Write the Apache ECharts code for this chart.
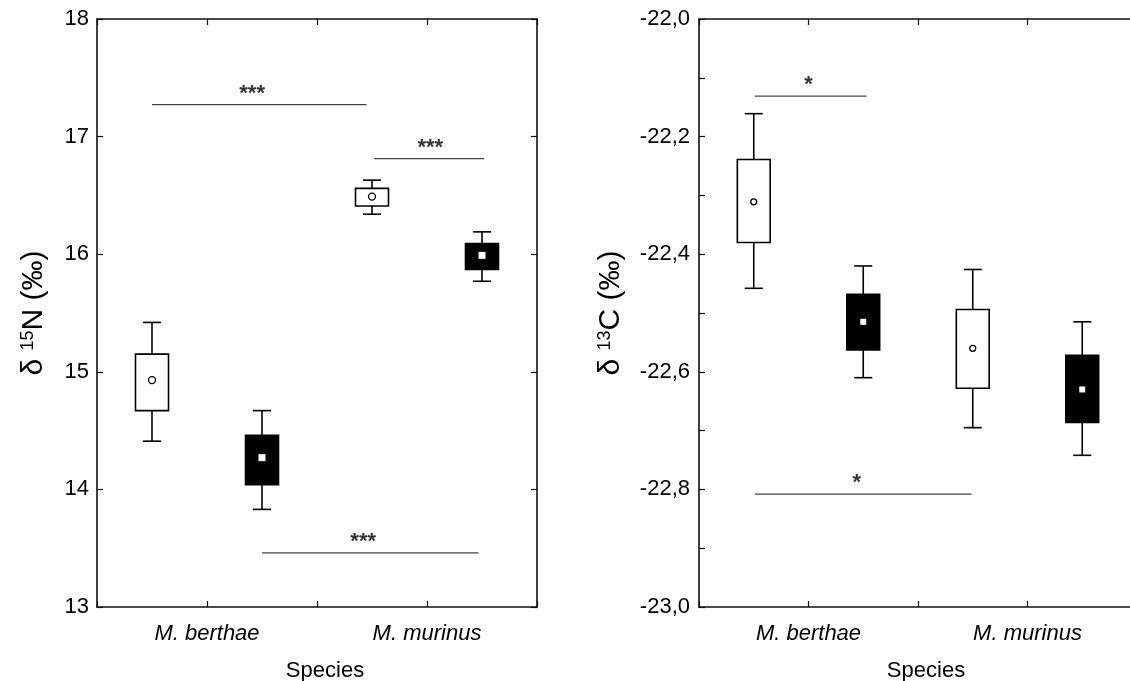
<!DOCTYPE html>
<html>
<head>
<meta charset="utf-8">
<script src="https://cdn.jsdelivr.net/npm/echarts@6/dist/echarts.min.js"></script>
<style>
html,body{margin:0;padding:0;background:#fff;}
#chart{width:1130px;height:681px;}
</style>
</head>
<body>
<div id="chart"></div>
<script>
// ---- data ----
const categories = ['M. berthae', 'M. murinus'];
const categoryPos = [1, 3];
const boxPos = [0.5, 1.5, 2.5, 3.5];
const boxFilled = [0, 1, 0, 1];

// delta 15N panel
const nWhiskerLow  = [14.41, 13.83, 16.34, 15.77];
const nBoxLow      = [14.67, 14.04, 16.41, 15.87];
const nMean        = [14.93, 14.27, 16.49, 15.99];
const nBoxHigh     = [15.15, 14.46, 16.56, 16.09];
const nWhiskerHigh = [15.42, 14.67, 16.63, 16.19];
const nTicks = [13, 14, 15, 16, 17, 18];

// delta 13C panel
const cWhiskerLow  = [-22.458, -22.610, -22.695, -22.742];
const cBoxLow      = [-22.380, -22.563, -22.628, -22.686];
const cMean        = [-22.311, -22.515, -22.560, -22.630];
const cBoxHigh     = [-22.239, -22.468, -22.494, -22.572];
const cWhiskerHigh = [-22.161, -22.420, -22.426, -22.515];
const cTicks = [-23.0, -22.8, -22.6, -22.4, -22.2, -22.0];

// significance bars
const nSigX1 = [0.50, 2.52, 1.50];
const nSigX2 = [2.45, 3.52, 3.47];
const nSigY  = [17.272, 16.813, 13.46];
const nSigLabelX = [1.41, 3.03, 2.42];
const nSigLabel = ['***', '***', '***'];

const cSigX1 = [0.51, 0.51];
const cSigX2 = [1.53, 2.49];
const cSigY  = [-22.131, -22.808];
const cSigLabelX = [1.00, 1.44];
const cSigLabel = ['*', '*'];

// ---- chart ----
const FONT = "'Liberation Sans', Arial, sans-serif";
const chart = echarts.init(document.getElementById('chart'), null, {renderer: 'canvas'});

function boxData(wl, bl, m, bh, wh) {
  return boxPos.map((x, i) => [x, wl[i], bl[i], m[i], bh[i], wh[i], boxFilled[i]]);
}

function makeRender(markSize, circleR) {
  return function (params, api) {
    const x = api.value(0);
    const pWL = api.coord([x, api.value(1)]);
    const pBL = api.coord([x, api.value(2)]);
    const pM  = api.coord([x, api.value(3)]);
    const pBH = api.coord([x, api.value(4)]);
    const pWH = api.coord([x, api.value(5)]);
    const filled = api.value(6) === 1;
    const halfW = api.size([0.3, 0])[0] / 2;
    const capHalf = api.size([0.165, 0])[0] / 2;
    const ls = {stroke: '#000', lineWidth: 1.6};
    const children = [
      {type: 'line', shape: {x1: pWH[0], y1: pWH[1], x2: pWL[0], y2: pWL[1]}, style: ls},
      {type: 'line', shape: {x1: pWH[0] - capHalf, y1: pWH[1], x2: pWH[0] + capHalf, y2: pWH[1]}, style: ls},
      {type: 'line', shape: {x1: pWL[0] - capHalf, y1: pWL[1], x2: pWL[0] + capHalf, y2: pWL[1]}, style: ls},
      {type: 'rect', shape: {x: pBH[0] - halfW, y: pBH[1], width: halfW * 2, height: pBL[1] - pBH[1]},
        style: {fill: filled ? '#000' : '#fff', stroke: '#000', lineWidth: 1.6}}
    ];
    if (filled) {
      children.push({type: 'rect', shape: {x: pM[0] - markSize / 2, y: pM[1] - markSize / 2, width: markSize, height: markSize},
        style: {fill: '#fff'}});
    } else {
      children.push({type: 'circle', shape: {cx: pM[0], cy: pM[1], r: circleR},
        style: {fill: '#fff', stroke: '#000', lineWidth: 1.3}});
    }
    return {type: 'group', children: children};
  };
}

function sigLines(x1, x2, y, xi, yi) {
  return x1.map((v, i) => ({
    type: 'line', xAxisIndex: xi, yAxisIndex: yi, silent: true, symbol: 'none',
    data: [[x1[i], y[i]], [x2[i], y[i]]],
    lineStyle: {color: '#444', width: 1.2}, animation: false, z: 3
  }));
}

function sigText(lx, y, labels, xi, yi) {
  return {
    type: 'scatter', xAxisIndex: xi, yAxisIndex: yi, silent: true, symbolSize: 0,
    data: lx.map((v, i) => [lx[i], y[i], labels[i]]),
    label: {show: true, position: 'top', distance: 0, formatter: p => p.data[2],
      fontFamily: FONT, fontSize: 22, fontWeight: 'bold', color: '#000'},
    animation: false
  };
}

const axisLineStyle = {show: true, onZero: false, lineStyle: {color: '#111', width: 1.6}};
const tickStyle = {show: true, inside: true, length: 6, lineStyle: {color: '#111', width: 1.2}};

function xAxes(gi) {
  return [
    {gridIndex: gi, type: 'value', min: 0, max: 4, interval: 1, position: 'bottom',
      axisLine: axisLineStyle, axisTick: tickStyle, splitLine: {show: false},
      axisLabel: {show: true, margin: 16, fontFamily: FONT, fontSize: 22, fontStyle: 'italic', color: '#000',
        formatter: v => { const k = categoryPos.indexOf(Math.round(v)); return k >= 0 ? categories[k] : ''; }},
      name: 'Species', nameLocation: 'middle', nameGap: 53,
      nameTextStyle: {fontFamily: FONT, fontSize: 22, color: '#000', padding: [0, 0, 0, 16]}},
    {gridIndex: gi, type: 'value', min: 0, max: 4, interval: 1, position: 'top',
      axisLine: axisLineStyle, axisTick: tickStyle, axisLabel: {show: false}, splitLine: {show: false}}
  ];
}

const nFmt = v => String(Math.round(v));
const cFmt = v => { const t = Math.round(v * 10); return t % 2 === 0 ? (t / 10).toFixed(1).replace('.', ',') : ''; };

const option = {
  backgroundColor: '#fff',
  animation: false,
  grid: [
    {left: 97, top: 19, width: 440, height: 588, outerBoundsMode: 'none', containLabel: false},
    {left: 699, top: 19, width: 438, height: 588, outerBoundsMode: 'none', containLabel: false}
  ],
  xAxis: [...xAxes(0), ...xAxes(1)],
  yAxis: [
    {gridIndex: 0, type: 'value', min: nTicks[0], max: nTicks[nTicks.length - 1], interval: 1, position: 'left',
      axisLine: axisLineStyle, axisTick: tickStyle, splitLine: {show: false},
      axisLabel: {margin: 8, fontFamily: FONT, fontSize: 22, color: '#000', formatter: nFmt},
      name: '{d|δ }{s|15}{n|N (‰)}', nameLocation: 'middle', nameRotate: 90, nameGap: 48,
      nameTextStyle: {rich: {
        d: {fontFamily: FONT, fontSize: 30, color: '#000'},
        s: {fontFamily: FONT, fontSize: 18, color: '#000', verticalAlign: 'top'},
        n: {fontFamily: FONT, fontSize: 30, color: '#000'}}}},
    {gridIndex: 0, type: 'value', min: 13, max: 18, interval: 1, position: 'right',
      axisLine: axisLineStyle, axisTick: tickStyle, axisLabel: {show: false}, splitLine: {show: false}},
    {gridIndex: 1, type: 'value', min: -23, max: -22, interval: 0.1, position: 'left',
      axisLine: axisLineStyle, axisTick: tickStyle, splitLine: {show: false},
      axisLabel: {margin: 9, fontFamily: FONT, fontSize: 22, color: '#000', formatter: cFmt},
      name: '{d|δ }{s|13}{n|C (‰)}', nameLocation: 'middle', nameRotate: 90, nameGap: 73,
      nameTextStyle: {rich: {
        d: {fontFamily: FONT, fontSize: 30, color: '#000'},
        s: {fontFamily: FONT, fontSize: 18, color: '#000', verticalAlign: 'top'},
        n: {fontFamily: FONT, fontSize: 30, color: '#000'}}}},
    {gridIndex: 1, type: 'value', min: -23, max: -22, interval: 0.1, position: 'right',
      axisLine: axisLineStyle, axisTick: tickStyle, axisLabel: {show: false}, splitLine: {show: false}}
  ],
  series: [
    {type: 'custom', xAxisIndex: 0, yAxisIndex: 0, renderItem: makeRender(7, 3.5),
      data: boxData(nWhiskerLow, nBoxLow, nMean, nBoxHigh, nWhiskerHigh), z: 4},
    {type: 'custom', xAxisIndex: 2, yAxisIndex: 2, renderItem: makeRender(6, 3),
      data: boxData(cWhiskerLow, cBoxLow, cMean, cBoxHigh, cWhiskerHigh), z: 4},
    ...sigLines(nSigX1, nSigX2, nSigY, 0, 0),
    ...sigLines(cSigX1, cSigX2, cSigY, 2, 2),
    sigText(nSigLabelX, nSigY, nSigLabel, 0, 0),
    sigText(cSigLabelX, cSigY, cSigLabel, 2, 2)
  ]
};
chart.setOption(option);
</script>
</body>
</html>
